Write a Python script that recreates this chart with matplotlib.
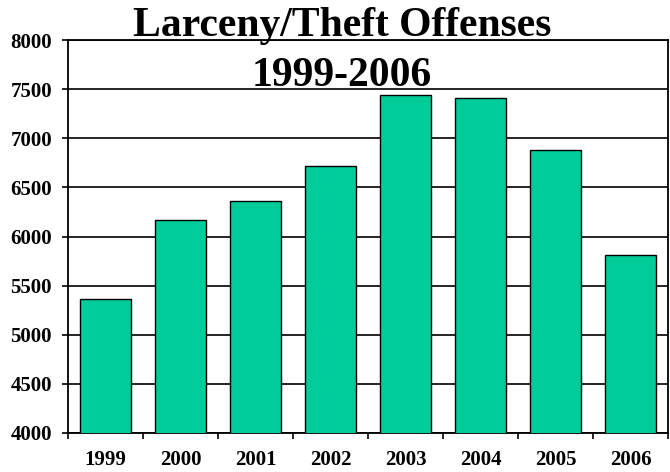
import numpy as np
import matplotlib.pyplot as plt
from matplotlib.ticker import FixedLocator, MultipleLocator

plt.rcParams['font.family'] = ['Liberation Serif', 'DejaVu Serif']
plt.rcParams['font.weight'] = 'bold'

# Larceny/theft offenses per year
years = ['1999', '2000', '2001', '2002', '2003', '2004', '2005', '2006']
offenses = [5360, 6165, 6365, 6715, 7440, 7410, 6885, 5815]

fig = plt.figure(figsize=(6.7, 4.72), dpi=100)
ax = fig.add_axes([68 / 670, 1 - 433 / 472, 600 / 670, 393 / 472])

x = np.arange(len(years))
ax.bar(x, offenses, width=0.67, bottom=0, color='#00CC99',
       edgecolor='black', linewidth=1.0, zorder=3)

ax.set_xlim(-0.5, len(years) - 0.5)
ax.set_ylim(4000, 8000)
ax.yaxis.set_major_locator(MultipleLocator(500))
ax.grid(axis='y', color='black', linewidth=1.2, zorder=1)
ax.set_axisbelow(True)

# year labels centred on bars, tick marks between categories
ax.set_xticks(x)
ax.set_xticklabels(years)
ax.xaxis.set_minor_locator(FixedLocator(np.arange(-0.5, len(years), 1.0)))
ax.tick_params(axis='x', which='major', length=0, pad=12.5, labelsize=15)
ax.tick_params(axis='x', which='minor', length=4.5, width=1.2, direction='out')
ax.tick_params(axis='y', length=4.5, width=1.2, direction='out', pad=7, labelsize=15)
for lbl in ax.get_xticklabels() + ax.get_yticklabels():
    lbl.set_fontweight('bold')

for side in ['left', 'right', 'top', 'bottom']:
    ax.spines[side].set_color('black')
    ax.spines[side].set_linewidth(1.3)

fig.text(342 / 670, 1 - 36 / 472, 'Larceny/Theft Offenses', ha='center',
         va='baseline', fontsize=30, fontweight='bold', zorder=10)
fig.text(342 / 670, 1 - 86 / 472, '1999-2006', ha='center',
         va='baseline', fontsize=30, fontweight='bold', zorder=10)

fig.savefig('out.png', dpi=100)
